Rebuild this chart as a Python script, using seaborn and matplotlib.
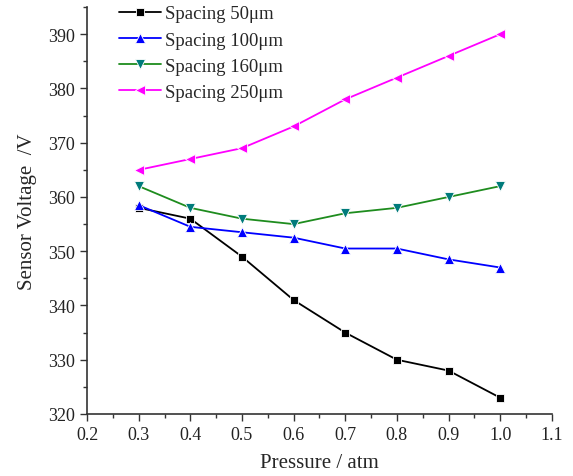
import numpy as np
import pandas as pd
import seaborn as sns
import matplotlib
matplotlib.use("Agg")
import matplotlib.pyplot as plt
from matplotlib.ticker import MultipleLocator, FormatStrFormatter

pressure = [0.3, 0.4, 0.5, 0.6, 0.7, 0.8, 0.9, 1.0]
v50 = [358, 356, 349, 341, 335, 330, 328, 323]
v100 = [358.5, 354.5, 353.5, 352.5, 350.5, 350.5, 348.5, 347]
v160 = [362, 358, 356, 355, 357, 358, 360, 362]
v250 = [365, 367, 369, 373, 378, 382, 386, 390]
labels = ["Spacing 50\u03bcm", "Spacing 100\u03bcm", "Spacing 160\u03bcm", "Spacing 250\u03bcm"]

sns.set_style("ticks")
plt.rcParams['font.family'] = ['Liberation Serif', 'DejaVu Serif']

fig = plt.figure(figsize=(5.73, 4.77), dpi=100)
ax = fig.add_axes([0.152, 0.130, 0.811, 0.853])

styles = [
    (v50, "#000000", "s", "#000000", 5.5),
    (v100, "#0000FF", "^", "#0000FF", 6.5),
    (v160, "#1E8C1E", "v", "#007B7B", 6.5),
    (v250, "#FF00FF", "<", "#FF00FF", 6.5),
]
for (vals, c, m, mc, ms), lab in zip(styles, labels):
    df = pd.DataFrame({"p": pressure, "v": vals})
    sns.lineplot(data=df, x="p", y="v", ax=ax, color=c, marker=m,
                 markerfacecolor=mc, markeredgecolor="white", markeredgewidth=0.6,
                 markersize=ms, linewidth=1.3, label=lab)

ax.set_xlim(0.2, 1.1)
ax.set_ylim(320, 395)
ax.xaxis.set_major_locator(MultipleLocator(0.1))
ax.xaxis.set_minor_locator(MultipleLocator(0.05))
ax.xaxis.set_major_formatter(FormatStrFormatter("%.1f"))
ax.yaxis.set_major_locator(MultipleLocator(10))
ax.yaxis.set_minor_locator(MultipleLocator(5))
ax.tick_params(which="major", direction="out", length=5, width=1, labelsize=13, colors="#333333", labelcolor="#222222")
ax.tick_params(which="minor", direction="out", length=3, width=1, colors="#333333")
for s in ["top", "right"]:
    ax.spines[s].set_visible(False)
for s in ["left", "bottom"]:
    ax.spines[s].set_linewidth(1.2)
    ax.spines[s].set_color("#333333")

ax.set_xlabel("Pressure / atm", fontsize=15, labelpad=7)
ax.set_ylabel("Sensor Voltage  /V", fontsize=15, labelpad=8)

leg = ax.legend(loc="upper left", bbox_to_anchor=(0.053, 1.023), frameon=False,
                fontsize=13.5, handlelength=2.25, labelspacing=0.48, handletextpad=0.2,
                borderaxespad=0)

fig.savefig("out.png", dpi=100)
